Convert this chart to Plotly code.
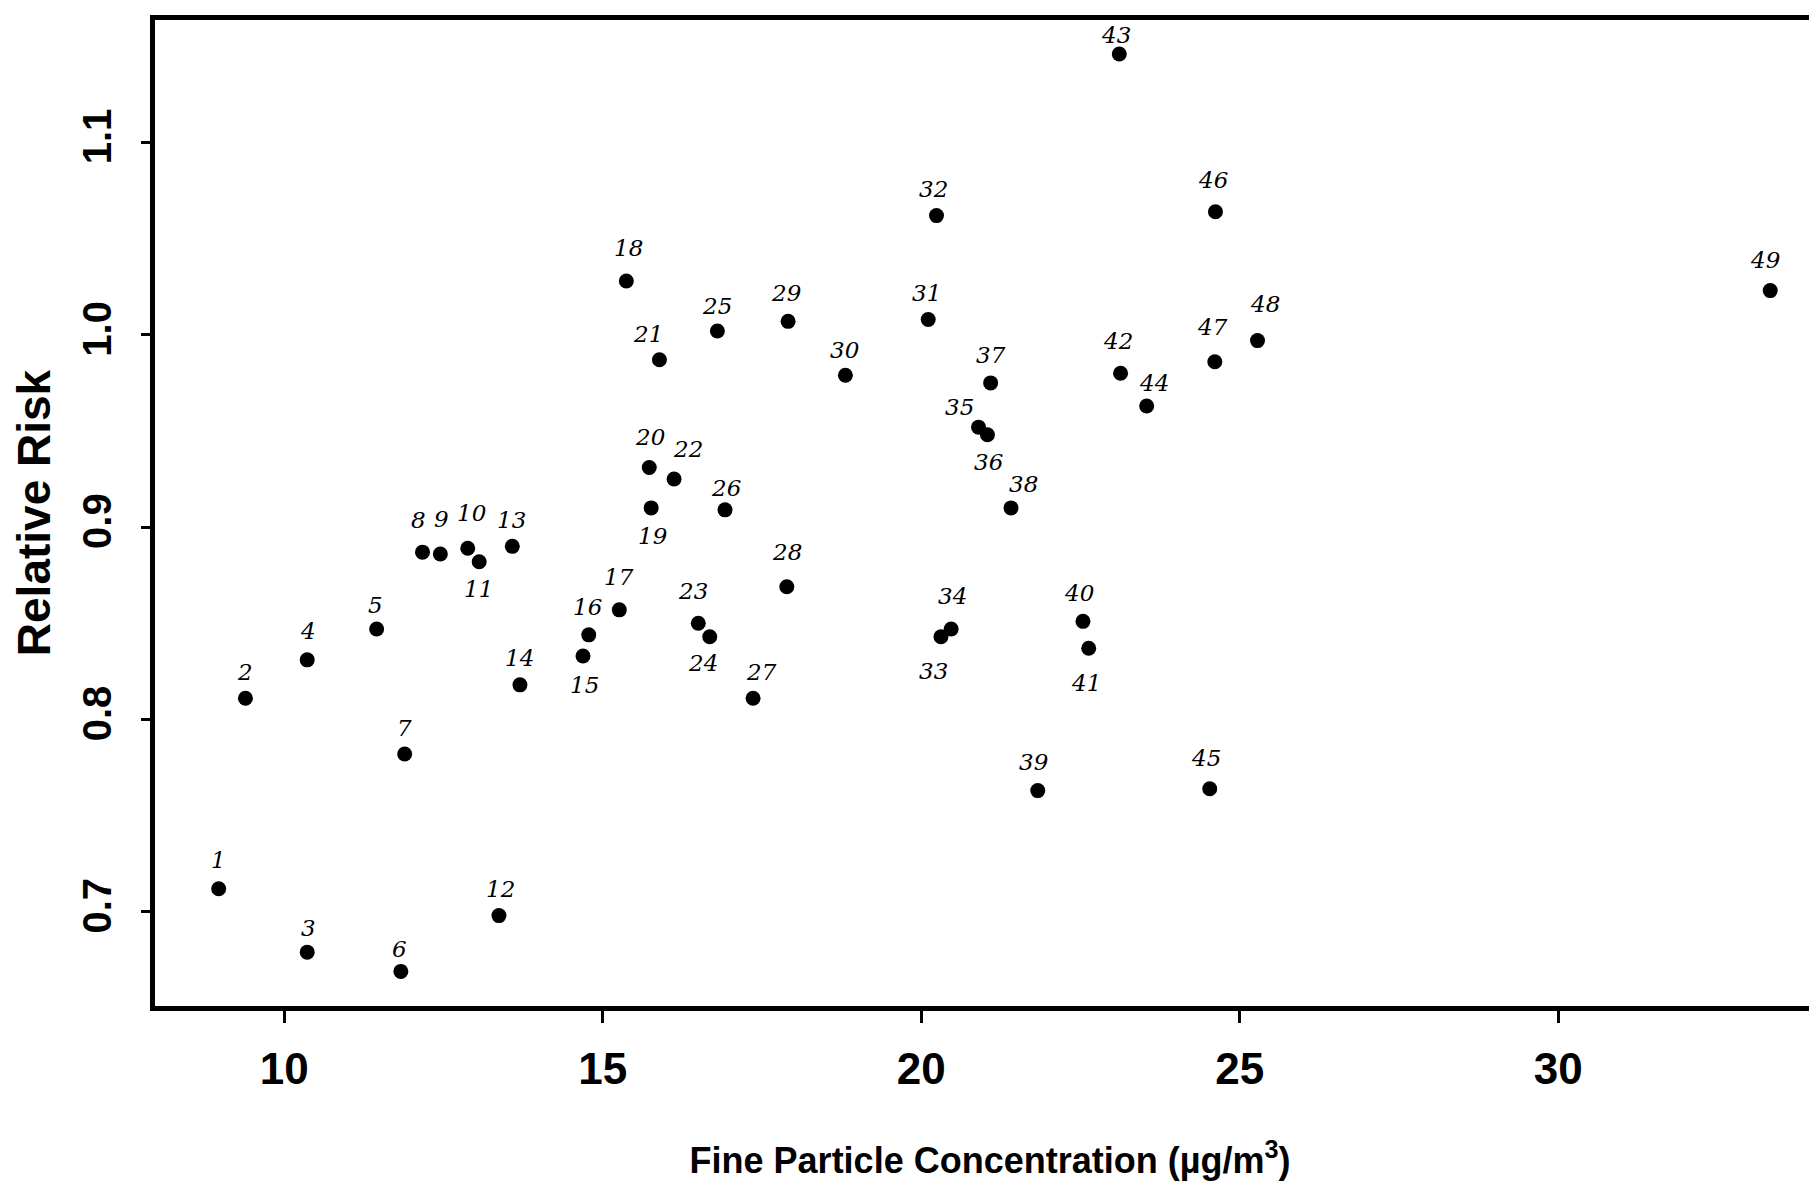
import plotly.graph_objects as go

# ---- data ----
city_ids = list(range(1, 50))
pm25 = [8.97, 9.39, 10.36, 10.36, 11.45, 11.83, 11.89, 12.17, 12.45, 12.88,
        13.06, 13.37, 13.58, 13.70, 14.69, 14.78, 15.26, 15.37, 15.76, 15.73,
        15.89, 16.12, 16.50, 16.68, 16.80, 16.92, 17.36, 17.89, 17.91, 18.81,
        20.11, 20.24, 20.31, 20.47, 20.90, 21.04, 21.09, 21.41, 21.83, 22.54,
        22.63, 23.13, 23.11, 23.54, 24.53, 24.62, 24.61, 25.28, 33.33]
relative_risk = [0.712, 0.811, 0.679, 0.831, 0.847, 0.669, 0.782, 0.887, 0.886, 0.889,
                 0.882, 0.698, 0.890, 0.818, 0.833, 0.844, 0.857, 1.028, 0.910, 0.931,
                 0.987, 0.925, 0.850, 0.843, 1.002, 0.909, 0.811, 0.869, 1.007, 0.979,
                 1.008, 1.062, 0.843, 0.847, 0.952, 0.948, 0.975, 0.910, 0.763, 0.851,
                 0.837, 0.980, 1.146, 0.963, 0.764, 1.064, 0.986, 0.997, 1.023]
x_ticks = [10, 15, 20, 25, 30]
y_ticks = [0.7, 0.8, 0.9, 1.0, 1.1]

# label placement (pixel offsets from the point: dx right, dy down)
label_offsets = {
    1: (0, -29), 2: (0, -26), 3: (1, -24), 4: (1, -29), 5: (-1, -24), 6: (-1, -22),
    7: (0, -26), 8: (-4, -32), 9: (1, -35), 10: (4, -35), 11: (-1, 27), 12: (2, -27),
    13: (-1, -26), 14: (0, -27), 15: (1, 29), 16: (-1, -28), 17: (0, -33), 18: (2, -33),
    19: (1, 28), 20: (1, -31), 21: (-11, -26), 22: (14, -30), 23: (-5, -32), 24: (-7, 26),
    25: (0, -25), 26: (1, -22), 27: (8, -26), 28: (0, -35), 29: (-2, -28), 30: (-1, -25),
    31: (-2, -26), 32: (-3, -27), 33: (-7, 34), 34: (1, -33), 35: (-19, -20), 36: (1, 27),
    37: (0, -28), 38: (12, -24), 39: (-4, -29), 40: (-4, -28), 41: (-3, 35), 42: (-3, -32),
    43: (-3, -19), 44: (7, -23), 45: (-4, -31), 46: (-2, -32), 47: (-2, -35), 48: (7, -37),
    49: (-5, -31),
}

fig = go.Figure()
fig.add_trace(go.Scatter(
    x=pm25, y=relative_risk, mode="markers",
    marker=dict(color="black", size=15, symbol="circle"),
    showlegend=False, hoverinfo="text",
    text=[str(i) for i in city_ids],
))

for cid, xv, yv in zip(city_ids, pm25, relative_risk):
    dx, dy = label_offsets[cid]
    fig.add_annotation(
        x=xv, y=yv, xref="x", yref="y", text=str(cid), showarrow=False,
        xshift=dx, yshift=-dy,
        font=dict(family="DejaVu Serif, Liberation Serif, serif", size=23,
                  color="black", style="italic"),
    )

fig.update_layout(
    width=1817, height=1204,
    margin=dict(l=147, r=0, t=12, b=206, autoexpand=False),
    paper_bgcolor="white", plot_bgcolor="white",
    font=dict(family="Liberation Sans, Arial, sans-serif", color="black"),
    xaxis=dict(
        range=[7.97, 34.19], tickvals=x_ticks, ticktext=[str(t) for t in x_ticks],
        showgrid=False, zeroline=False, showline=True, linecolor="black",
        linewidth=5, mirror=True, ticks="outside", ticklen=12, tickwidth=3,
        tickcolor="black", ticklabelstandoff=8,
        tickfont=dict(family="Liberation Sans, Arial, sans-serif",
                      size=44, weight="bold", color="black"),
        title=dict(text="Fine Particle Concentration (µg/m<sup>3</sup>)",
                   standoff=58,
                   font=dict(family="Liberation Sans, Arial, sans-serif",
                             size=36, weight="bold", color="black")),
    ),
    yaxis=dict(
        range=[0.651, 1.1637], tickvals=y_ticks, ticktext=[f"{t:.1f}" for t in y_ticks],
        showgrid=False, zeroline=False, showline=True, linecolor="black",
        linewidth=5, mirror=False, ticks="outside", ticklen=9, tickwidth=3,
        tickcolor="black", tickangle=-90, ticklabelstandoff=14,
        tickfont=dict(family="Liberation Sans, Arial, sans-serif", size=40,
                      weight="bold", color="black"),
        title=dict(text="Relative Risk", standoff=31,
                   font=dict(family="Liberation Sans, Arial, sans-serif", size=46,
                             weight="bold", color="black")),
    ),
)

fig.write_html("out.html")
